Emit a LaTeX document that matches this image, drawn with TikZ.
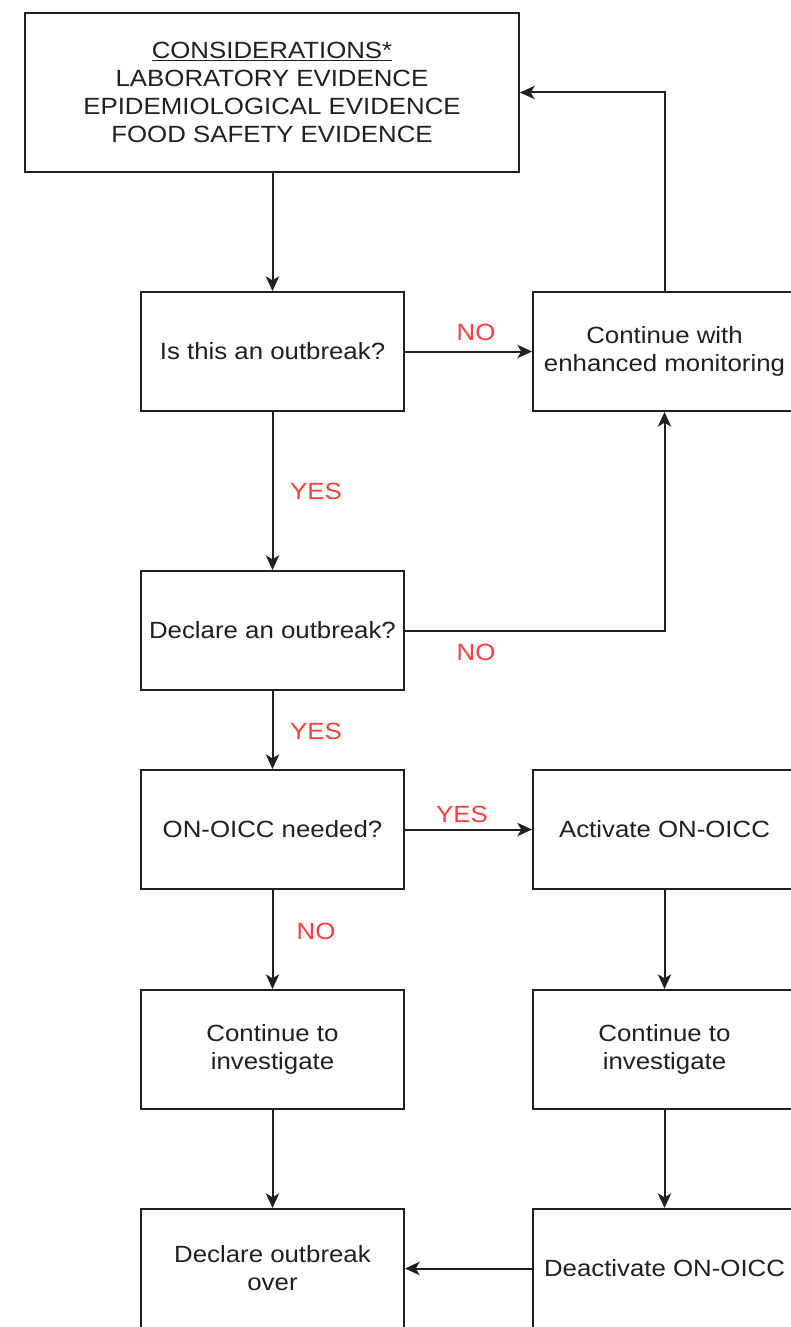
\documentclass[tikz,border=0pt]{standalone}
\usepackage{fontspec}
\setmainfont{Liberation Sans}[FakeStretch=1.1]
\usetikzlibrary{arrows.meta}
\definecolor{ink}{HTML}{202020}
\definecolor{lbl}{HTML}{FF3B3B}
\begin{document}
\begin{tikzpicture}[x=0.75pt,y=-0.75pt,
  every node/.style={font=\fontsize{17.6}{21}\selectfont, text=ink},
  box/.style={draw=ink, line width=1.5pt, fill=white, minimum width=197.25pt, minimum height=89.25pt, align=center, inner sep=0pt},
  arr/.style={draw=ink, line width=1.5pt, -{Stealth[length=11pt,width=10pt,inset=3pt]}},
  lab/.style={text=lbl, inner sep=0pt}]
\useasboundingbox (0,0) rectangle (791,1327);
\clip (0,0) rectangle (791,1327);
\fill[white] (0,0) rectangle (791,1327);
\node[box, minimum width=370.5pt, minimum height=119.25pt] (top) at (272,92.5)
  {\underline{CONSIDERATIONS*}\\LABORATORY EVIDENCE\\EPIDEMIOLOGICAL EVIDENCE\\FOOD SAFETY EVIDENCE};
\node[box] (q1) at (272.5,351.5) {Is this an outbreak?};
\node[box] (mon) at (664.5,351.5) {Continue with\\enhanced monitoring};
\node[box] (q2) at (272.5,630.5) {Declare an outbreak?};
\node[box] (q3) at (272.5,829.5) {ON-OICC needed?};
\node[box] (act) at (664.5,829.5) {Activate ON-OICC};
\node[box] (inv1) at (272.5,1049.5) {Continue to\\investigate};
\node[box] (inv2) at (664.5,1049.5) {Continue to\\investigate};
\node[box] (over) at (272.5,1268.5) {Declare outbreak\\over};
\node[box] (deact) at (664.5,1268.5) {Deactivate ON-OICC};
\draw[arr] (top.south -| q1) -- (q1.north);
\draw[arr] (q1) -- (mon);
\draw[arr] (mon.north) |- (top.east);
\draw[arr] (q1) -- (q2);
\draw[arr] (q2.east) -| (mon.south);
\draw[arr] (q2) -- (q3);
\draw[arr] (q3) -- (act);
\draw[arr] (q3) -- (inv1);
\draw[arr] (act) -- (inv2);
\draw[arr] (inv1) -- (over);
\draw[arr] (inv2) -- (deact);
\draw[arr] (deact) -- (over);
\node[lab] (n1) at (476,332) {NO};
\node[lab] (y1) at (316,491) {YES};
\node[lab] (n2) at (476,652) {NO};
\node[lab] (y2) at (316,731) {YES};
\node[lab] (y3) at (462,814) {YES};
\node[lab] (n3) at (316,931) {NO};
\end{tikzpicture}
\end{document}
